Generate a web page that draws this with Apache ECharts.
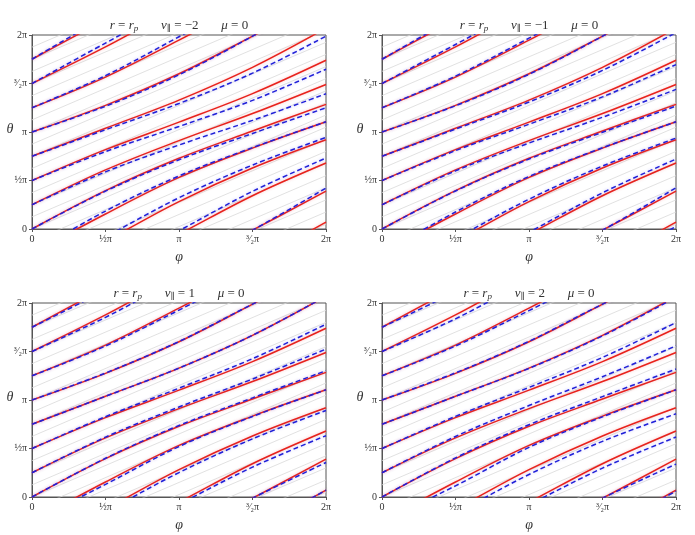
<!DOCTYPE html>
<html>
<head>
<meta charset="utf-8">
<script src="https://cdn.jsdelivr.net/npm/echarts/dist/echarts.min.js"></script>
<style>
  html, body { margin: 0; padding: 0; background: #fff; }
  #chart { width: 695px; height: 535px; }
</style>
</head>
<body>
<div id="chart"></div>
<script>
// all angles in units of pi
var phiSamples = [0, 0.5, 1, 1.5, 2];
var tickValues = [0, 0.5, 1, 1.5, 2];
var tickLabels = ['0', '½π', 'π', '³⁄₂π', '2π'];
var vParallel = ['−2', '−1', '1', '2'];

// red solid curves (same in all panels), theta at phiSamples, unwrapped
var redCurves = [
  [0, 0.395, 0.729, 1.01, 1.285],
  [0.25, 0.609, 0.911, 1.19, 1.49],
  [0.5, 0.818, 1.102, 1.396, 1.74],
  [0.75, 1.038, 1.329, 1.667, 2.07],
  [1.0, 1.275, 1.6, 1.988, 2.39],
  [1.25, 1.566, 1.947, 2.343, 2.68],
  [1.5, 1.877, 2.282, 2.629, 2.92],
  [1.75, 2.155, 2.532, 2.834, 3.105]
];

// blue dashed curves per panel
var blueVm2 = [
  [0, 0.390, 0.714, 0.985, 1.25],
  [0.25, 0.589, 0.866, 1.12, 1.394],
  [0.5, 0.798, 1.057, 1.326, 1.647],
  [0.75, 1.023, 1.294, 1.607, 1.988],
  [1.0, 1.265, 1.59, 1.988, 2.422],
  [1.25, 1.581, 1.982, 2.388, 2.731],
  [1.5, 1.917, 2.322, 2.659, 2.944],
  [1.75, 2.185, 2.547, 2.839, 3.105]
];
var blueVm1 = [
  [0, 0.392, 0.721, 0.997, 1.267],
  [0.25, 0.599, 0.886, 1.152, 1.439],
  [0.5, 0.808, 1.08, 1.362, 1.695],
  [0.75, 1.03, 1.309, 1.635, 2.025],
  [1.0, 1.27, 1.595, 1.988, 2.424],
  [1.25, 1.576, 1.967, 2.373, 2.721],
  [1.5, 1.902, 2.307, 2.649, 2.937],
  [1.75, 2.175, 2.542, 2.837, 3.105]
];
var blueVp1 = [
  [0, 0.399, 0.737, 1.022, 1.302],
  [0.25, 0.617, 0.928, 1.216, 1.525],
  [0.5, 0.828, 1.122, 1.426, 1.781],
  [0.75, 1.038, 1.329, 1.667, 2.07],
  [1.0, 1.278, 1.603, 1.988, 2.356],
  [1.25, 1.556, 1.927, 2.308, 2.632],
  [1.5, 1.852, 2.252, 2.599, 2.892],
  [1.75, 2.13, 2.52, 2.83, 3.105]
];
var blueVp2 = [
  [0, 0.403, 0.745, 1.035, 1.319],
  [0.25, 0.624, 0.943, 1.24, 1.558],
  [0.5, 0.831, 1.13, 1.439, 1.798],
  [0.75, 1.038, 1.326, 1.661, 2.06],
  [1.0, 1.28, 1.605, 1.988, 2.339],
  [1.25, 1.556, 1.922, 2.298, 2.618],
  [1.5, 1.837, 2.232, 2.574, 2.858],
  [1.75, 2.115, 2.512, 2.826, 3.105]
];

// light grey straight reference lines: theta at phi=0 and rise over 2pi
var grayStart = [-1.25, -1.125, -1, -0.875, -0.75, -0.625, -0.5, -0.375, -0.25, -0.125,
  0, 0.125, 0.25, 0.375, 0.5, 0.625, 0.75, 0.875, 1, 1.125, 1.25, 1.375, 1.5, 1.625, 1.75, 1.875];
var grayRise = 1.3;

var blueSets = [blueVm2, blueVm1, blueVp1, blueVp2];
var panels = [
  {left: 32, top: 35},
  {left: 382, top: 35},
  {left: 32, top: 303},
  {left: 382, top: 303}
];
var W = 294, H = 194;
var serif = '"Liberation Serif", "DejaVu Serif", serif';

var grids = [], xAxes = [], yAxes = [], series = [], graphics = [];

function curveData(vals, shift) {
  return phiSamples.map(function (p, i) { return [p, vals[i] + shift]; });
}
function tickFmt(v) {
  var i = tickValues.indexOf(Math.round(v * 2) / 2);
  return i >= 0 ? tickLabels[i] : '';
}

panels.forEach(function (pn, i) {
  grids.push({left: pn.left, top: pn.top, width: W, height: H, show: true,
    borderColor: '#555', borderWidth: 1, backgroundColor: 'transparent'});
  var axisCommon = {
    gridIndex: i, type: 'value', min: 0, max: 2, interval: 0.5,
    axisLine: {show: true, onZero: false, lineStyle: {color: '#555', width: 1}},
    axisTick: {show: true, length: 3, lineStyle: {color: '#555'}},
    axisLabel: {formatter: tickFmt, fontFamily: serif, fontSize: 10, color: '#333', margin: 5},
    splitLine: {show: false}
  };
  xAxes.push(Object.assign({}, axisCommon));
  yAxes.push(Object.assign({}, axisCommon));

  // grey reference lines
  grayStart.forEach(function (g) {
    series.push({type: 'line', xAxisIndex: i, yAxisIndex: i, silent: true,
      data: [[0, g], [2, g + grayRise]], symbol: 'none', animation: false, z: 1,
      lineStyle: {color: '#d9d9d9', width: 0.8}});
  });
  // red solid, drawn twice for the 2pi wrap (the grid clips)
  redCurves.forEach(function (c) {
    [0, -2].forEach(function (s) {
      series.push({type: 'line', xAxisIndex: i, yAxisIndex: i, silent: true,
        data: curveData(c, s), smooth: 0.35, symbol: 'none', animation: false, z: 3, clip: true,
        lineStyle: {color: '#e8221c', width: 1.5,
          shadowColor: 'rgba(240,80,80,0.35)', shadowBlur: 3}});
    });
  });
  blueSets[i].forEach(function (c) {
    [0, -2].forEach(function (s) {
      series.push({type: 'line', xAxisIndex: i, yAxisIndex: i, silent: true,
        data: curveData(c, s), smooth: 0.35, symbol: 'none', animation: false, z: 4, clip: true,
        lineStyle: {color: '#2020d8', width: 1.5, type: [5, 3],
          shadowColor: 'rgba(90,90,255,0.35)', shadowBlur: 3}});
    });
  });

  // title, axis names
  graphics.push({type: 'text', x: pn.left + W / 2, y: pn.top - 9, z: 10,
    style: {
      text: '{i|r} = {i|r}{s|p}       {i|v}{s|∥} = ' + vParallel[i] + '       {i|μ} = 0',
      align: 'center', textAlign: 'center', verticalAlign: 'middle', textVerticalAlign: 'middle',
      font: '13px ' + serif, fill: '#333',
      rich: {
        i: {fontFamily: serif, fontStyle: 'italic', fontSize: 13, fill: '#333', color: '#333'},
        s: {fontFamily: serif, fontStyle: 'italic', fontSize: 9, fill: '#333', color: '#333', padding: [6, 0, 0, 0]}
      }
    }});
  graphics.push({type: 'text', x: pn.left - 22, y: pn.top + H / 2 - 3, z: 10,
    style: {text: 'θ', align: 'center', textAlign: 'center', verticalAlign: 'middle', textVerticalAlign: 'middle',
      font: 'italic 14px ' + serif, fill: '#333'}});
  graphics.push({type: 'text', x: pn.left + W / 2, y: pn.top + H + 28, z: 10,
    style: {text: 'φ', align: 'center', textAlign: 'center', verticalAlign: 'middle', textVerticalAlign: 'middle',
      font: 'italic 14px ' + serif, fill: '#333'}});
});

var chart = echarts.init(document.getElementById('chart'), null, {renderer: 'canvas'});
chart.setOption({
  animation: false,
  backgroundColor: '#fff',
  grid: grids,
  xAxis: xAxes,
  yAxis: yAxes,
  series: series,
  graphic: graphics
});
</script>
</body>
</html>
